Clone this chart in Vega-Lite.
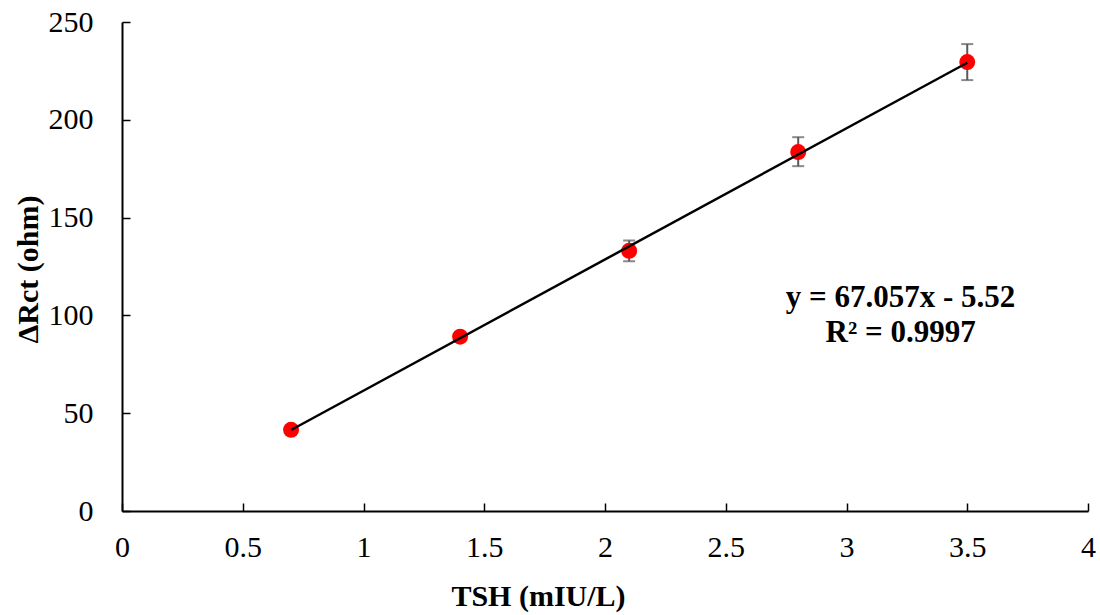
{
  "$schema": "https://vega.github.io/schema/vega-lite/v6.json",
  "autosize": "none",
  "width": 966,
  "height": 489,
  "padding": {"left": 122, "top": 22, "right": 12, "bottom": 104},
  "background": "white",
  "config": {
    "view": {"stroke": null},
    "font": "Liberation Serif",
    "axis": {
      "grid": false,
      "domainColor": "black",
      "domainWidth": 2,
      "tickColor": "black",
      "tickWidth": 1.5,
      "tickSize": -8,
      "labelFont": "Liberation Serif",
      "labelFontSize": 30,
      "labelColor": "black",
      "titleFont": "Liberation Serif",
      "titleFontSize": 30,
      "titleFontWeight": "bold",
      "titleColor": "black"
    }
  },
  "datasets": {
    "pts": [
      {"x": 0.7, "y": 41.5, "lo": 40.0, "hi": 43.0},
      {"x": 1.4, "y": 89.1, "lo": 87.0, "hi": 91.2},
      {"x": 2.1, "y": 133.0, "lo": 127.7, "hi": 138.3},
      {"x": 2.8, "y": 183.5, "lo": 176.3, "hi": 191.1},
      {"x": 3.5, "y": 229.5, "lo": 220.3, "hi": 238.7}
    ],
    "trend": [
      {"x": 0.7, "y": 41.42},
      {"x": 3.5, "y": 229.18}
    ],
    "labels": [
      {"x": 3.224, "y": 108.9, "t": "y = 67.057x - 5.52"},
      {"x": 3.224, "y": 90.9, "t": "R² = 0.9997"}
    ]
  },
  "layer": [
    {
      "data": {"name": "pts"},
      "mark": {"type": "rule", "color": "#595959", "strokeWidth": 2},
      "encoding": {
        "x": {"field": "x", "type": "quantitative", "scale": {"domain": [0, 4], "nice": false},
          "axis": {"values": [0, 0.5, 1, 1.5, 2, 2.5, 3, 3.5, 4], "format": "~g", "labelPadding": 29, "title": "TSH (mIU/L)", "titleX": 416, "titleY": 85, "titleAlign": "center", "titleBaseline": "middle", "labelFlush": false}},
        "y": {"field": "lo", "type": "quantitative", "scale": {"domain": [0, 250], "nice": false},
          "axis": {"values": [0, 50, 100, 150, 200, 250], "labelPadding": 37, "title": "ΔRct (ohm)", "titleX": -94, "titleY": 247, "titleAngle": -90, "titleAlign": "center", "titleBaseline": "middle"}},
        "y2": {"field": "hi"}
      }
    },
    {
      "data": {"name": "pts"},
      "mark": {"type": "tick", "orient": "horizontal", "color": "#595959", "size": 12, "thickness": 2},
      "encoding": {
        "x": {"field": "x", "type": "quantitative"},
        "y": {"field": "lo", "type": "quantitative"}
      }
    },
    {
      "data": {"name": "pts"},
      "mark": {"type": "tick", "orient": "horizontal", "color": "#595959", "size": 12, "thickness": 2},
      "encoding": {
        "x": {"field": "x", "type": "quantitative"},
        "y": {"field": "hi", "type": "quantitative"}
      }
    },
    {
      "data": {"name": "pts"},
      "mark": {"type": "circle", "color": "#FF0000", "opacity": 1, "size": 255},
      "encoding": {
        "x": {"field": "x", "type": "quantitative"},
        "y": {"field": "y", "type": "quantitative"}
      }
    },
    {
      "data": {"name": "trend"},
      "mark": {"type": "line", "color": "black", "strokeWidth": 2.5},
      "encoding": {
        "x": {"field": "x", "type": "quantitative"},
        "y": {"field": "y", "type": "quantitative"}
      }
    },
    {
      "data": {"name": "labels"},
      "mark": {"type": "text", "font": "Liberation Serif", "fontSize": 31, "fontWeight": "bold", "align": "center", "baseline": "middle", "color": "black"},
      "encoding": {
        "x": {"field": "x", "type": "quantitative"},
        "y": {"field": "y", "type": "quantitative"},
        "text": {"field": "t"}
      }
    }
  ]
}
